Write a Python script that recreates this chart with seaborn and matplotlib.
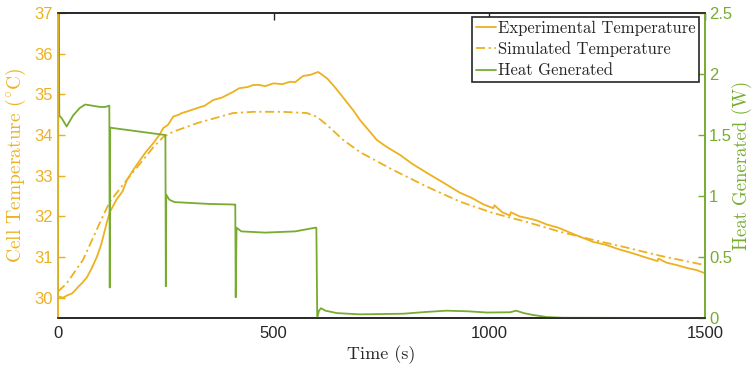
import numpy as np
import pandas as pd
import matplotlib
matplotlib.use("Agg")
import matplotlib.pyplot as plt
import seaborn as sns

# experimental cell temperature (degC)
exp_time = [0, 12, 20, 32, 40, 47, 55, 67, 78, 90, 100, 113, 120, 135, 150, 160, 175, 190,
            205, 221, 235, 244, 255, 267, 280, 287, 300, 322, 340, 360, 380, 406, 420, 440,
            453, 468, 480, 500, 520, 538, 550, 568, 585, 603, 610, 625, 640, 653, 670, 685,
            700, 720, 739, 760, 793, 820, 855, 890, 932, 960, 985, 1009, 1012, 1030, 1048,
            1050, 1070, 1087, 1110, 1133, 1160, 1187, 1210, 1241, 1270, 1303, 1330, 1365,
            1390, 1392, 1411, 1435, 1458, 1480, 1500]
exp_temp = [30.03, 30.0, 30.05, 30.1, 30.18, 30.27, 30.35, 30.5, 30.72, 31.0, 31.3, 31.84,
            32.1, 32.4, 32.62, 32.9, 33.15, 33.38, 33.6, 33.8, 34.0, 34.17, 34.25, 34.45,
            34.5, 34.54, 34.58, 34.66, 34.72, 34.86, 34.92, 35.06, 35.15, 35.18, 35.23,
            35.23, 35.2, 35.27, 35.25, 35.31, 35.3, 35.45, 35.48, 35.55, 35.5, 35.38, 35.2,
            35.03, 34.8, 34.6, 34.37, 34.12, 33.88, 33.72, 33.51, 33.3, 33.07, 32.85, 32.58,
            32.45, 32.3, 32.2, 32.27, 32.1, 32.02, 32.1, 32.0, 31.96, 31.9, 31.8, 31.72,
            31.6, 31.5, 31.37, 31.3, 31.18, 31.1, 30.98, 30.9, 30.96, 30.86, 30.8, 30.73,
            30.68, 30.6]

# simulated cell temperature (degC)
sim_time = [0, 20, 58, 97, 120, 160, 221, 244, 267, 325, 406, 453, 520, 577, 600, 623, 661,
            700, 777, 855, 932, 1009, 1087, 1164, 1241, 1319, 1396, 1500]
sim_temp = [30.15, 30.35, 30.93, 31.84, 32.36, 32.9, 33.7, 33.95, 34.08, 34.3, 34.54, 34.57,
            34.57, 34.54, 34.45, 34.25, 33.88, 33.58, 33.14, 32.73, 32.36, 32.08, 31.86,
            31.62, 31.42, 31.23, 31.03, 30.8]

# heat generated (W)
heat_time = [0, 1, 3, 10, 20, 35, 50, 63, 80, 97, 110, 118, 119, 120, 121, 248, 249, 250,
             251, 258, 270, 350, 410, 411, 412, 414, 425, 480, 550, 596, 599, 601, 605, 610,
             620, 647, 700, 800, 855, 900, 950, 994, 1048, 1062, 1080, 1101, 1133, 1170, 1500]
heat_w = [0.16, 3.0, 1.66, 1.63, 1.57, 1.66, 1.72, 1.75, 1.74, 1.73, 1.73, 1.74, 1.74, 0.25,
          1.56, 1.5, 1.5, 0.26, 1.01, 0.97, 0.95, 0.935, 0.93, 0.93, 0.17, 0.74, 0.71, 0.70,
          0.71, 0.74, 0.74, 0.0, 0.06, 0.08, 0.06, 0.04, 0.03, 0.035, 0.05, 0.06, 0.055,
          0.045, 0.047, 0.06, 0.04, 0.025, 0.008, 0.002, 0.0]

orange = "#EDB120"
green = "#77AC30"
dark = "#262626"

sns.set_style("white")
plt.rcParams["mathtext.fontset"] = "cm"
plt.rcParams["font.family"] = ["Liberation Sans", "DejaVu Sans"]

exp_df = pd.DataFrame({"t": exp_time, "T": exp_temp})
sim_df = pd.DataFrame({"t": sim_time, "T": sim_temp})
heat_df = pd.DataFrame({"t": heat_time, "Q": heat_w})

fig = plt.figure(figsize=(7.53, 3.68), dpi=100)
ax = fig.add_axes([58 / 753, 50 / 368, 647 / 753, 305 / 368])
ax2 = ax.twinx()

sns.lineplot(data=exp_df, x="t", y="T", ax=ax, color=orange, lw=1.3,
             label="Experimental Temperature", legend=False)
sns.lineplot(data=sim_df, x="t", y="T", ax=ax, color=orange, lw=1.3,
             label="Simulated Temperature", legend=False)
ax.lines[1].set_dashes([5, 2, 1.2, 2])
sns.lineplot(data=heat_df, x="t", y="Q", ax=ax2, color=green, lw=1.3,
             label="Heat Generated", legend=False)

ax.set_xlim(0, 1500)
ax.set_ylim(29.5, 37)
ax2.set_ylim(0, 2.5)
ax.set_xticks([0, 500, 1000, 1500])
ax.set_yticks(range(30, 38))
ax2.set_yticks([0, 0.5, 1, 1.5, 2, 2.5])
ax2.set_yticklabels(["0", "0.5", "1", "1.5", "2", "2.5"])

serif = "cmr10"
ax.set_xlabel("Time (s)", family=serif, fontsize=13, color=dark, labelpad=3)
ax.set_ylabel(r"Cell Temperature ($^{\circ}$C)", family=serif, fontsize=14,
              color=orange, labelpad=4)
ax2.set_ylabel("Heat Generated (W)", family=serif, fontsize=13.5, color=green, labelpad=0)

ax.tick_params(axis="x", direction="in", length=5, width=1, colors=dark,
               labelsize=12, top=True, pad=6)
ax.tick_params(axis="y", direction="in", length=5, width=1, colors=orange,
               labelsize=12, right=False, pad=4)
ax2.tick_params(axis="y", direction="in", length=5, width=1, colors=green,
                labelsize=12, left=False, pad=3)

for a in (ax, ax2):
    for s in a.spines.values():
        s.set_linewidth(1.2)
        s.set_color(dark)
    a.spines["left"].set_color(orange)
    a.spines["right"].set_color(green)
    a.grid(False)

handles = ax.lines[:2] + ax2.lines[:1]
labels = ["Experimental Temperature", "Simulated Temperature", "Heat Generated"]
leg = ax2.legend(handles, labels, loc="upper right",
                 bbox_to_anchor=(641 / 647, 301 / 305), prop={"family": serif, "size": 12},
                 frameon=True, fancybox=False, edgecolor=dark, framealpha=1,
                 handlelength=1.2, handletextpad=0.15, labelspacing=0.35,
                 borderpad=0.2, borderaxespad=0)
leg.get_frame().set_linewidth(1.2)

fig.savefig("out.png", dpi=100)
